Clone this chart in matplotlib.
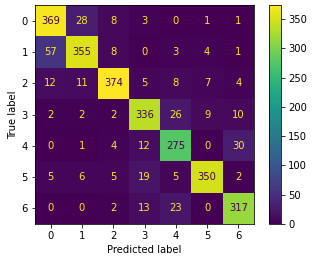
import matplotlib
matplotlib.use("Agg")
import matplotlib.pyplot as plt
import numpy as np

labels = ["0", "1", "2", "3", "4", "5", "6"]
row0 = [369, 28, 8, 3, 0, 1, 1]
row1 = [57, 355, 8, 0, 3, 4, 1]
row2 = [12, 11, 374, 5, 8, 7, 4]
row3 = [2, 2, 2, 336, 26, 9, 10]
row4 = [0, 1, 4, 12, 275, 0, 30]
row5 = [5, 6, 5, 19, 5, 350, 2]
row6 = [0, 0, 2, 13, 23, 0, 317]

cm = np.array([row0, row1, row2, row3, row4, row5, row6])

W, H = 312, 262
fig = plt.figure(figsize=(W / 72, H / 72), dpi=72)
ax = fig.add_axes([35 / W, 1 - 224 / H, 219 / W, 219 / H])
cax = fig.add_axes([269 / W, 1 - 224 / H, 12 / W, 219 / H])

cmap = plt.get_cmap("viridis")
im = ax.imshow(cm, cmap=cmap, interpolation="nearest", aspect="auto")
thresh = (cm.max() + cm.min()) / 2.0
for i in range(cm.shape[0]):
    for j in range(cm.shape[1]):
        color = cmap(0.0) if cm[i, j] >= thresh else cmap(1.0)
        ax.text(j, i, str(cm[i, j]), ha="center", va="center", color=color, fontsize=10)

ax.set_xticks(range(len(labels)))
ax.set_xticklabels(labels)
ax.set_yticks(range(len(labels)))
ax.set_yticklabels(labels)
ax.set_xlabel("Predicted label")
ax.set_ylabel("True label")
cb = fig.colorbar(im, cax=cax)
cb.set_ticks([0, 50, 100, 150, 200, 250, 300, 350])

fig.savefig("out.png", dpi=72)
